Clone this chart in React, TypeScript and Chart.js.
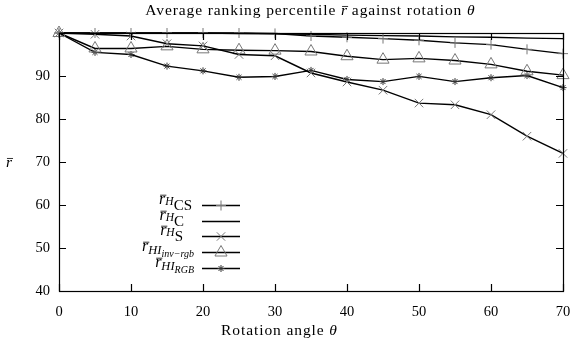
import React, { useEffect, useRef } from "react";
import { Chart, registerables } from "chart.js";

Chart.register(...registerables);

const angles = [0, 5, 10, 15, 20, 25, 30, 35, 40, 45, 50, 55, 60, 65, 70];
const rHCS = [100, 100, 100, 100, 100, 100, 99.9, 99.3, 99.0, 98.7, 98.3, 97.7, 97.3, 96.2, 95.2];
const rHC = [100, 100, 100, 100, 100, 99.9, 99.8, 99.7, 99.5, 99.4, 99.3, 99.1, 99.0, 98.8, 98.7];
const rHS = [100, 99.7, 99.3, 97.5, 97.0, 95.0, 94.7, 90.7, 88.6, 86.7, 83.7, 83.3, 81.0, 76.0, 72.0];
const rHIinv = [100, 96.4, 96.4, 96.9, 96.2, 96.0, 95.9, 95.7, 94.6, 93.8, 94.1, 93.6, 92.7, 91.1, 90.2];
const rHIrgb = [100, 95.5, 95.0, 92.3, 91.2, 89.7, 89.9, 91.3, 89.2, 88.7, 89.9, 88.7, 89.6, 90.1, 87.3];

const yTicks = [40, 50, 60, 70, 80, 90];
const xTicks = [0, 10, 20, 30, 40, 50, 60, 70];

const titleText = ["Average ranking percentile ", "r", " against rotation ", "θ"];
const xTitle = ["Rotation angle ", "θ"];

const FONT = "'Liberation Serif', 'DejaVu Serif', serif";
const MARK = "#777777";

type Seg = { t: string; size: number; italic?: boolean; dy?: number; over?: boolean; ls?: number };

// legend label pieces
const legendLabels: Seg[][] = [
  [{ t: "r", size: 16, italic: true, over: true }, { t: "H", size: 11.5, italic: true, dy: 1 }, { t: "CS", size: 15, dy: 6 }],
  [{ t: "r", size: 16, italic: true, over: true }, { t: "H", size: 11.5, italic: true, dy: 1 }, { t: "C", size: 15, dy: 6 }],
  [{ t: "r", size: 16, italic: true, over: true }, { t: "H", size: 11.5, italic: true, dy: 1 }, { t: "S", size: 15, dy: 6 }],
  [{ t: "r", size: 16, italic: true, over: true }, { t: "HI", size: 12.5, italic: true, dy: 3 }, { t: "inv−rgb", size: 10, italic: true, dy: 6 }],
  [{ t: "r", size: 16, italic: true, over: true }, { t: "HI", size: 12.5, italic: true, dy: 3 }, { t: "RGB", size: 10, italic: true, dy: 6 }],
];
const legendRight = [192, 184, 183, 194, 194];
const legendStyles = ["cross", "none", "crossRot", "triangle", "star"];

function fontStr(s: Seg) {
  return `${s.italic ? "italic " : ""}${s.size}px ${FONT}`;
}

function drawRich(ctx: CanvasRenderingContext2D, segs: Seg[], x: number, y: number, align: "left" | "right" | "center") {
  let w = 0;
  const anyCtx = ctx as any;
  const ws = segs.map((s) => {
    ctx.font = fontStr(s);
    anyCtx.letterSpacing = `${s.ls || 0}px`;
    const m = ctx.measureText(s.t).width;
    w += m;
    return m;
  });
  let cx = align === "left" ? x : align === "right" ? x - w : x - w / 2;
  ctx.textAlign = "left";
  ctx.textBaseline = "alphabetic";
  ctx.fillStyle = "#000";
  segs.forEach((s, i) => {
    ctx.font = fontStr(s);
    anyCtx.letterSpacing = `${s.ls || 0}px`;
    ctx.fillText(s.t, cx, y + (s.dy || 0));
    if (s.over) {
      ctx.beginPath();
      ctx.lineWidth = 0.8;
      ctx.strokeStyle = "#000";
      const oy = y + (s.dy || 0) - s.size * 0.55;
      ctx.moveTo(cx + 1, oy);
      ctx.lineTo(cx + ws[i] + 1, oy);
      ctx.stroke();
    }
    cx += ws[i];
  });
  anyCtx.letterSpacing = "0px";
}

function drawMarker(ctx: CanvasRenderingContext2D, style: string, x: number, y: number) {
  ctx.save();
  ctx.strokeStyle = MARK;
  ctx.lineWidth = 1;
  ctx.beginPath();
  if (style === "cross") {
    ctx.moveTo(x - 5, y); ctx.lineTo(x + 5, y);
    ctx.moveTo(x, y - 5); ctx.lineTo(x, y + 5);
  } else if (style === "crossRot") {
    ctx.moveTo(x - 4.2, y - 4.2); ctx.lineTo(x + 4.2, y + 4.2);
    ctx.moveTo(x - 4.2, y + 4.2); ctx.lineTo(x + 4.2, y - 4.2);
  } else if (style === "triangle") {
    const r = 7;
    ctx.moveTo(x, y - r);
    ctx.lineTo(x + r * 0.866, y + r * 0.5);
    ctx.lineTo(x - r * 0.866, y + r * 0.5);
    ctx.closePath();
  } else if (style === "star") {
    ctx.strokeStyle = "#333";
    const r = 3.5;
    ctx.moveTo(x - r, y); ctx.lineTo(x + r, y);
    ctx.moveTo(x, y - r); ctx.lineTo(x, y + r);
    const d = r * 0.707;
    ctx.moveTo(x - d, y - d); ctx.lineTo(x + d, y + d);
    ctx.moveTo(x - d, y + d); ctx.lineTo(x + d, y - d);
  }
  ctx.stroke();
  ctx.restore();
}

const decor = {
  id: "decor",
  afterDraw(chart: any) {
    const ctx: CanvasRenderingContext2D = chart.ctx;
    const { left, right, top, bottom } = chart.chartArea;
    const xs = chart.scales.x;
    const ys = chart.scales.y;
    ctx.save();
    // border
    ctx.strokeStyle = "#000";
    ctx.lineWidth = 1.2;
    ctx.strokeRect(Math.round(left) + 0.5, Math.round(top) + 0.5, Math.round(right - left), Math.round(bottom - top));
    // ticks
    const tl = 7;
    ctx.beginPath();
    xTicks.forEach((v) => {
      const px = Math.round(xs.getPixelForValue(v)) + 0.5;
      ctx.moveTo(px, bottom); ctx.lineTo(px, bottom - tl);
      ctx.moveTo(px, top); ctx.lineTo(px, top + tl);
    });
    yTicks.forEach((v) => {
      const py = Math.round(ys.getPixelForValue(v)) + 0.5;
      ctx.moveTo(left, py); ctx.lineTo(left + tl, py);
      ctx.moveTo(right, py); ctx.lineTo(right - tl, py);
    });
    ctx.stroke();

    // title
    drawRich(
      ctx,
      [
        { t: titleText[0], size: 15.5, ls: 0.9 },
        { t: titleText[1], size: 15.5, italic: true, over: true },
        { t: titleText[2], size: 15.5, ls: 0.9 },
        { t: titleText[3], size: 15.5, italic: true },
      ],
      310,
      15,
      "center"
    );
    // x title
    drawRich(ctx, [{ t: xTitle[0], size: 15.5, ls: 0.9 }, { t: xTitle[1], size: 15.5, italic: true }], 279, 335, "center");
    // y title
    drawRich(ctx, [{ t: "r", size: 15.5, italic: true, over: true }], 9, 167, "center");

    // legend
    const rowY = [205, 221, 236, 252, 268];
    legendLabels.forEach((segs, i) => {
      const y = rowY[i];
      drawRich(ctx, segs, legendRight[i], y - 1, "right");
      ctx.beginPath();
      ctx.strokeStyle = "#000";
      ctx.lineWidth = 1.3;
      ctx.moveTo(202, y + 0.5);
      ctx.lineTo(240, y + 0.5);
      ctx.stroke();
      drawMarker(ctx, legendStyles[i], 221, y + 0.5);
    });
    ctx.restore();
  },
};

export default function App() {
  const ref = useRef<HTMLCanvasElement>(null);
  useEffect(() => {
    document.body.style.margin = "0";
    const lineBase = { borderColor: "#000", borderWidth: 1.4, pointBorderColor: MARK, pointBackgroundColor: "rgba(0,0,0,0)", pointBorderWidth: 1, clip: false as any, tension: 0 };
    const chart = new Chart(ref.current!, {
      type: "line",
      data: {
        labels: angles,
        datasets: [
          { ...lineBase, label: "HCS", data: angles.map((a, i) => ({ x: a, y: rHCS[i] })), pointStyle: "cross", pointRadius: 5 },
          { ...lineBase, label: "HC", data: angles.map((a, i) => ({ x: a, y: rHC[i] })), pointRadius: 0 },
          { ...lineBase, label: "HS", data: angles.map((a, i) => ({ x: a, y: rHS[i] })), pointStyle: "crossRot", pointRadius: 6 },
          { ...lineBase, label: "HIinv", data: angles.map((a, i) => ({ x: a, y: rHIinv[i] })), pointStyle: "triangle", pointRadius: 7 },
          { ...lineBase, label: "HIrgb", data: angles.map((a, i) => ({ x: a, y: rHIrgb[i] })), pointStyle: "star", pointRadius: 3.5, pointBorderColor: "#333" },
        ],
      },
      options: {
        animation: false,
        responsive: false,
        devicePixelRatio: 1,
        layout: { padding: { left: 0, right: 9, top: 33, bottom: 0 } },
        plugins: { legend: { display: false }, title: { display: false }, tooltip: { enabled: false } },
        scales: {
          x: {
            type: "linear",
            min: 0,
            max: 70,
            afterFit: (s: any) => { s.height = 54; s.paddingLeft = 0; s.paddingRight = 0; },
            afterBuildTicks: (s: any) => { s.ticks = xTicks.map((v) => ({ value: v })); },
            grid: { display: false, drawTicks: false },
            border: { display: false },
            ticks: { color: "#000", font: { family: FONT, size: 14.5 }, padding: 12, maxRotation: 0 },
          },
          y: {
            type: "linear",
            min: 40,
            max: 100,
            afterFit: (s: any) => { s.width = 59; s.paddingTop = 0; s.paddingBottom = 0; },
            afterBuildTicks: (s: any) => { s.ticks = yTicks.map((v) => ({ value: v })); },
            grid: { display: false, drawTicks: false },
            border: { display: false },
            ticks: { color: "#000", font: { family: FONT, size: 14.5 }, padding: 9 },
          },
        },
      },
      plugins: [decor],
    });
    return () => chart.destroy();
  }, []);
  return (
    <div style={{ width: 572, height: 345, background: "#fff" }}>
      <canvas ref={ref} width={572} height={345} style={{ width: 572, height: 345, display: "block" }} />
    </div>
  );
}
